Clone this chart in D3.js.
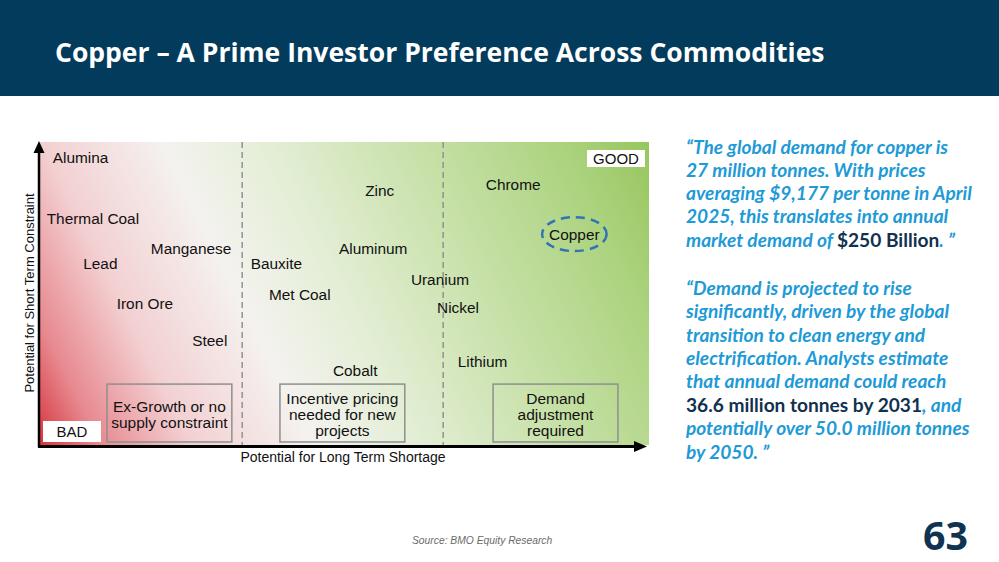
<!DOCTYPE html>
<html>
<head>
<meta charset="utf-8">
<script src="https://cdn.jsdelivr.net/npm/d3@7"></script>
<style>
  html, body { margin: 0; padding: 0; background: #ffffff; }
  svg { display: block; }
</style>
</head>
<body>
<svg id="chart" width="999" height="562"></svg>
<script>
// ---------------- DATA ----------------
const commodities = ["Alumina", "Thermal Coal", "Manganese", "Lead", "Iron Ore", "Steel",
  "Bauxite", "Met Coal", "Zinc", "Aluminum", "Uranium", "Nickel", "Cobalt",
  "Chrome", "Copper", "Lithium"];
// Potential for Long Term Shortage (0-100)
const longTermShortage = [2.1, 1.1, 18.2, 7.1, 12.6, 25.0, 34.6, 37.6, 53.4, 49.1, 60.9, 65.2, 48.1, 73.2, 83.6, 68.6];
// Potential for Short Term Constraint (0-100)
const shortTermConstraint = [95.0, 74.6, 64.7, 59.7, 46.5, 34.3, 59.7, 49.5, 83.8, 64.7, 54.5, 45.5, 24.4, 86.1, 69.6, 27.4];
const highlighted = "Copper";
const dividers = [33.2, 66.2];
const zoneLabels = [
  ["Ex-Growth or no", "supply constraint"],
  ["Incentive pricing", "needed for new", "projects"],
  ["Demand", "adjustment", "required"]
];
const zoneStart = [11.0, 39.4, 74.4];   // x position (data units) of each zone box
const xAxisTitle = "Potential for Long Term Shortage";
const yAxisTitle = "Potential for Short Term Constraint";
const title = "Copper \u2013 A Prime Investor Preference Across Commodities";
const quote1 = [
  [["\u201CThe global demand for copper is", 0]],
  [["27 million tonnes. With prices", 0]],
  [["averaging $9,177 per tonne in April", 0]],
  [["2025, this translates into annual", 0]],
  [["market demand of ", 0], ["$250 Billion", 1], [". \u201D", 0]]
];
const quote2 = [
  [["\u201CDemand is projected to rise", 0]],
  [["significantly, driven by the global", 0]],
  [["transition to clean energy and", 0]],
  [["electrification. Analysts estimate", 0]],
  [["that annual demand could reach", 0]],
  [["36.6 million tonnes by 2031", 1], [", and", 0]],
  [["potentially over 50.0 million tonnes", 0]],
  [["by 2050. \u201D", 0]]
];
const source = "Source: BMO Equity Research";
const pageNumber = "63";

// ---------------- LAYOUT ----------------
const svg = d3.select("#chart");
const W = 999, H = 562;
const plot = { left: 40, right: 649, top: 142, bottom: 445 };
const x = d3.scaleLinear().domain([0, 100]).range([plot.left, plot.right]);
const y = d3.scaleLinear().domain([0, 100]).range([plot.bottom, plot.top]);
const ARIAL = "'Liberation Sans', Arial, sans-serif";

function fit(sel, target) {
  const w = sel.node().getComputedTextLength();
  const fs = parseFloat(sel.attr("font-size"));
  sel.attr("font-size", (fs * target / w).toFixed(2));
}

// Header
svg.append("rect").attr("x", 0).attr("y", 0).attr("width", W).attr("height", 96).attr("fill", "#023b5b");
const t = svg.append("text").attr("x", 55).attr("y", 62)
  .attr("font-family", "'Open Sans', sans-serif").attr("font-weight", 700)
  .attr("font-size", 22).attr("fill", "#ffffff").text(title);
fit(t, 770);

// Gradient background
const defs = svg.append("defs");
const grad = defs.append("linearGradient").attr("id", "bg")
  .attr("gradientUnits", "userSpaceOnUse")
  .attr("x1", plot.left).attr("y1", plot.bottom).attr("x2", plot.right).attr("y2", plot.top);
[[0, "#d7343e"], [0.08, "#e7898f"], [0.2, "#f3d0d2"], [0.36, "#f4f2ef"], [0.5, "#e3eed5"],
 [0.7, "#c6e0a6"], [0.88, "#acd37f"], [1, "#97c65e"]]
  .forEach(([o, c]) => grad.append("stop").attr("offset", o).attr("stop-color", c));
svg.append("rect").attr("x", plot.left).attr("y", plot.top)
  .attr("width", plot.right - plot.left).attr("height", plot.bottom - plot.top)
  .attr("fill", "url(#bg)");

// Dividers
svg.selectAll("line.div").data(dividers).join("line").attr("class", "div")
  .attr("x1", d => x(d)).attr("x2", d => x(d)).attr("y1", plot.top).attr("y2", plot.bottom)
  .attr("stroke", "#8c8c8c").attr("stroke-width", 1.4).attr("stroke-dasharray", "6,4");

// Zone boxes
const zoneW = 20.5, zoneTop = 20.1, zoneBottom = 1.0;
const zones = svg.selectAll("g.zone").data(zoneLabels).join("g").attr("class", "zone");
zones.append("rect")
  .attr("x", (d, i) => x(zoneStart[i])).attr("y", y(zoneTop))
  .attr("width", x(zoneW) - x(0)).attr("height", y(zoneBottom) - y(zoneTop))
  .attr("fill", "none").attr("stroke", "#8f8f8f").attr("stroke-width", 1.5);
zones.each(function (lines, i) {
  const cx = x(zoneStart[i]) + (x(zoneW) - x(0)) / 2;
  const cy = (y(zoneTop) + y(zoneBottom)) / 2 + 1.5;
  const lh = 16.2;
  d3.select(this).selectAll("text").data(lines).join("text")
    .attr("x", cx).attr("y", (d, j) => cy + (j - (lines.length - 1) / 2) * lh)
    .attr("dy", "0.35em").attr("text-anchor", "middle")
    .attr("font-family", ARIAL).attr("font-size", 15.5).attr("fill", "#111").text(d => d);
});

// GOOD / BAD tags
svg.append("rect").attr("x", 587).attr("y", 150).attr("width", 58).attr("height", 17).attr("fill", "#fff");
svg.append("text").attr("x", 616).attr("y", 158.5).attr("dy", "0.35em").attr("text-anchor", "middle")
  .attr("font-family", ARIAL).attr("font-size", 15).attr("fill", "#111").text("GOOD");
svg.append("rect").attr("x", 43).attr("y", 421).attr("width", 58).attr("height", 21).attr("fill", "#fff");
svg.append("text").attr("x", 72).attr("y", 432).attr("dy", "0.35em").attr("text-anchor", "middle")
  .attr("font-family", ARIAL).attr("font-size", 15).attr("fill", "#111").text("BAD");

// Commodity labels
const pts = commodities.map((c, i) => ({ name: c, lx: longTermShortage[i], sy: shortTermConstraint[i] }));
const labels = svg.selectAll("text.com").data(pts).join("text").attr("class", "com")
  .attr("x", d => x(d.lx)).attr("y", d => y(d.sy)).attr("dy", "0.35em")
  .attr("font-family", ARIAL).attr("font-size", 15.4).attr("fill", "#111").text(d => d.name);

// Highlight ellipse
labels.filter(d => d.name === highlighted).each(function (d) {
  const w = this.getComputedTextLength();
  svg.append("ellipse").attr("cx", x(d.lx) + w / 2).attr("cy", y(d.sy))
    .attr("rx", w / 2 + 7).attr("ry", 17)
    .attr("fill", "none").attr("stroke", "#3474b4").attr("stroke-width", 2.5)
    .attr("stroke-dasharray", "9,6");
});

// Axes with arrows
svg.append("line").attr("x1", 39).attr("x2", 39).attr("y1", 447).attr("y2", 150)
  .attr("stroke", "#000").attr("stroke-width", 2.5);
svg.append("path").attr("d", "M39,141 L33.5,153 L44.5,153 Z").attr("fill", "#000");
svg.append("line").attr("x1", 38).attr("x2", 636).attr("y1", 446.5).attr("y2", 446.5)
  .attr("stroke", "#000").attr("stroke-width", 3);
svg.append("path").attr("d", "M647,446.5 L634,441 L634,452 Z").attr("fill", "#000");

svg.append("text").attr("x", 343).attr("y", 457).attr("dy", "0.35em").attr("text-anchor", "middle")
  .attr("font-family", ARIAL).attr("font-size", 14).attr("fill", "#111").text(xAxisTitle);
svg.append("text").attr("transform", "translate(29,293) rotate(-90)").attr("dy", "0.35em")
  .attr("text-anchor", "middle").attr("font-family", ARIAL).attr("font-size", 13)
  .attr("fill", "#111").text(yAxisTitle);

// Quotes
const QFONT = "Lato, 'Open Sans', sans-serif";
const blue = "#1e9ad6", dark = "#10324f";
function drawQuote(lines, y0, lh) {
  const g = svg.append("g");
  lines.forEach((parts, i) => {
    const tx = g.append("text").attr("x", 686).attr("y", y0 + i * lh).attr("dy", "0.35em")
      .attr("font-family", QFONT).attr("font-weight", 700).attr("font-size", 16);
    parts.forEach(([s, k]) => tx.append("tspan").text(s)
      .attr("fill", k ? dark : blue).attr("font-style", k ? "normal" : "italic"));
  });
  return g;
}
const g1 = drawQuote(quote1, 147, 23.25);
const g2 = drawQuote(quote2, 288, 23.43);
// size so that longest line of first quote spans the measured width
const ref = g1.selectAll("text").filter((d, i) => i === 2);
const w0 = ref.node().getComputedTextLength();
const qfs = 16 * 286 / w0;
svg.selectAll("g text").filter(function () { return this.parentNode === g1.node() || this.parentNode === g2.node(); })
  .attr("font-size", qfs.toFixed(2));

// Footer
svg.append("text").attr("x", 412).attr("y", 544).attr("font-family", ARIAL).attr("font-style", "italic")
  .attr("font-size", 10.3).attr("fill", "#6b6b6b").text(source);
const pn = svg.append("text").attr("x", 923).attr("y", 550).attr("font-family", "'Open Sans', sans-serif")
  .attr("font-weight", 700).attr("font-size", 40).attr("fill", "#0f3350").text(pageNumber);
fit(pn, 45);
</script>
</body>
</html>
